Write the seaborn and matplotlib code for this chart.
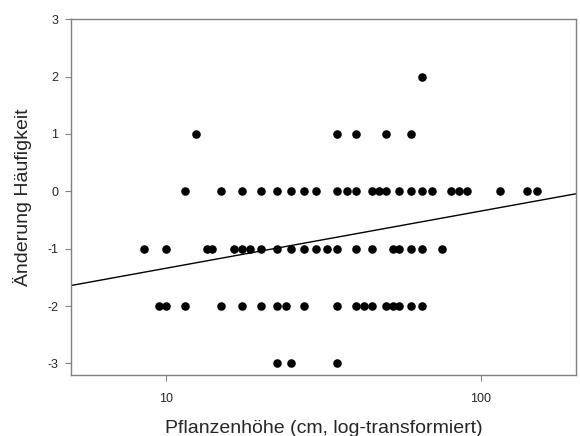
import numpy as np
import pandas as pd
import seaborn as sns
from matplotlib import pyplot as plt

# plant height (cm) per change in frequency
change_levels = [2, 1, 0, -1, -2, -3]
heights_p2 = [65]
heights_p1 = [12.5, 35, 40, 50, 60]
heights_0 = [11.5, 15, 17.5, 20, 22.5, 25, 27.5, 30, 35, 37.5, 40, 45, 47.5, 50,
             55, 60, 65, 70, 80, 85, 90, 115, 140, 150]
heights_m1 = [8.5, 10, 13.5, 14, 16.5, 17.5, 18.5, 20, 22.5, 25, 27.5, 30, 32.5,
              35, 40, 45, 52.5, 55, 60, 65, 75]
heights_m2 = [9.5, 10, 11.5, 15, 17.5, 20, 22.5, 24, 27.5, 35, 40, 42.5, 45, 50,
              52.5, 55, 60, 65]
heights_m3 = [22.5, 25, 35]

x_ticks = [10, 100]
x_tick_labels = ['10', '100']
y_ticks = [-3, -2, -1, 0, 1, 2, 3]

groups = [heights_p2, heights_p1, heights_0, heights_m1, heights_m2, heights_m3]
rows = []
for level, hs in zip(change_levels, groups):
    for h in hs:
        rows.append({'hoehe': h, 'aenderung': level})
data = pd.DataFrame(rows)

sns.set_style('white')
plt.rcParams['font.family'] = ['Liberation Sans', 'DejaVu Sans']
plt.rcParams['axes.unicode_minus'] = False

fig = plt.figure(figsize=(5.8, 4.36), dpi=100)
ax = fig.add_axes([0.1224, 0.140, 0.8706, 0.816])

sns.scatterplot(data=data, x='hoehe', y='aenderung', color='black', s=38,
                edgecolor='black', linewidth=0, ax=ax, zorder=3)

# linear fit on log10(height)
slope, intercept = np.polyfit(np.log10(data['hoehe']), data['aenderung'], 1)
xs = np.array([5, 200])
ax.plot(xs, intercept + slope * np.log10(xs), color='black', linewidth=1)

ax.set_xscale('log')
ax.set_xlim(5, 200)
ax.set_ylim(-3.2, 3)
ax.set_xticks(x_ticks)
ax.set_xticklabels(x_tick_labels)
ax.xaxis.set_minor_locator(plt.NullLocator())
ax.set_yticks(y_ticks)

for sp in ax.spines.values():
    sp.set_color('#808080')
    sp.set_linewidth(1)
ax.tick_params(axis='both', direction='out', length=4, width=0.8, color='#808080',
               labelsize=9, bottom=True, left=True)
ax.tick_params(axis='x', pad=9)
ax.tick_params(axis='y', pad=5)

ax.set_xlabel('Pflanzenhöhe (cm, log-transformiert)', fontsize=14, labelpad=11)
ax.set_ylabel('Änderung Häufigkeit', fontsize=14, labelpad=11)

fig.savefig('out.png', dpi=100)
